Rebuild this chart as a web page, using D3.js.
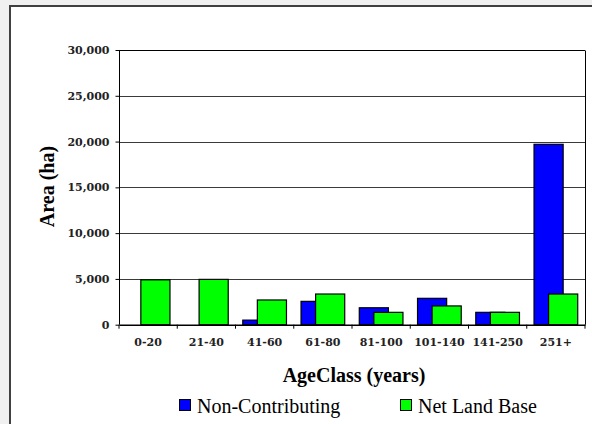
<!DOCTYPE html>
<html>
<head>
<meta charset="utf-8">
<script src="https://cdn.jsdelivr.net/npm/d3@7"></script>
<style>
  html, body { margin: 0; padding: 0; background: #f0f0f0; }
  svg { display: block; }
  .tick-label { font-family: "DejaVu Serif", "Bitstream Vera Serif", "Noto Serif", "Liberation Serif", serif; font-weight: bold; font-size: 11px; fill: #222; }
  .title { font-family: "Liberation Serif", "Times New Roman", Times, Tinos, "Noto Serif", "DejaVu Serif", serif; font-weight: bold; font-size: 20px; fill: #000; }
  .legend-label { font-family: "Liberation Serif", "Times New Roman", Times, Tinos, "Noto Serif", "DejaVu Serif", serif; font-size: 20px; fill: #000; }
</style>
</head>
<body>
<svg id="chart" width="592" height="424"></svg>
<script>
// Age classes and area (ha) per series
const categories = ["0-20", "21-40", "41-60", "61-80", "81-100", "101-140", "141-250", "251+"];
const nonContributing = [0, 0, 500, 2550, 1850, 2880, 1350, 19700];
const netLandBase = [4900, 4950, 2700, 3350, 1350, 2050, 1350, 3350];
const yTicks = [0, 5000, 10000, 15000, 20000, 25000, 30000];
const seriesNames = ["Non-Contributing", "Net Land Base"];
const seriesColors = ["#0000ff", "#00ff00"];

const svg = d3.select("#chart");

// Chart frame
svg.append("rect")
  .attr("x", 10).attr("y", 6)
  .attr("width", 620).attr("height", 460)
  .attr("fill", "#ffffff")
  .attr("stroke", "#404040").attr("stroke-width", 2);

const plot = { left: 119, right: 585, top: 50, bottom: 324.7 };

const x = d3.scaleBand()
  .domain(categories)
  .range([plot.left, plot.right])
  .paddingInner(0).paddingOuter(0);

const y = d3.scaleLinear()
  .domain([0, 30000])
  .range([plot.bottom, plot.top]);

// Horizontal gridlines
svg.append("g")
  .selectAll("line")
  .data(yTicks.filter(d => d > 0))
  .join("line")
  .attr("x1", plot.left).attr("x2", plot.right)
  .attr("y1", d => Math.round(y(d)) + 0.5).attr("y2", d => Math.round(y(d)) + 0.5)
  .attr("stroke", d => d === 30000 ? "#000" : "#3a3a3a")
  .attr("stroke-width", 1);

// Right border of plot area
svg.append("line")
  .attr("x1", plot.right + 0.5).attr("x2", plot.right + 0.5)
  .attr("y1", Math.round(y(30000)) + 0.5).attr("y2", plot.bottom)
  .attr("stroke", "#000").attr("stroke-width", 1);

// Bars: second series overlaps the first by half a bar width
const bw = x.bandwidth() / 2;
const groupOffset = (x.bandwidth() - 1.5 * bw) / 2;
const series = [nonContributing, netLandBase];

series.forEach((vals, si) => {
  svg.append("g")
    .selectAll("rect")
    .data(vals.map((v, i) => ({ cat: categories[i], v })))
    .join("rect")
    .filter(d => d.v > 0)
    .attr("x", d => x(d.cat) + groupOffset + si * bw * 0.5)
    .attr("y", d => y(d.v))
    .attr("width", bw)
    .attr("height", d => y(0) - y(d.v))
    .attr("fill", seriesColors[si])
    .attr("stroke", "#000")
    .attr("stroke-width", 1.2);
});

// Y axis
const yAxis = svg.append("g")
  .attr("transform", `translate(${plot.left + 0.5},0)`)
  .call(d3.axisLeft(y).tickValues(yTicks).tickSize(4).tickPadding(6)
    .tickFormat(d3.format(",")));
yAxis.attr("font-family", null).attr("font-size", null);
yAxis.select(".domain").attr("stroke", "#000").attr("d", `M0,${Math.round(y(30000)) + 0.5}V${plot.bottom}`);
yAxis.selectAll(".tick line").attr("stroke", "#000");
yAxis.selectAll("text").attr("class", "tick-label").attr("fill", null);

// X axis with ticks at category boundaries
const xAxis = svg.append("g")
  .attr("transform", `translate(0,${plot.bottom})`)
  .call(d3.axisBottom(x).tickSize(0).tickPadding(14));
xAxis.attr("font-family", null).attr("font-size", null);
xAxis.select(".domain").attr("stroke", "#000").attr("stroke-width", 1.5);
xAxis.selectAll("text").attr("class", "tick-label").attr("fill", null);
xAxis.selectAll(".boundary")
  .data(categories.concat([null]))
  .join("line")
  .attr("class", "boundary")
  .attr("x1", (d, i) => i < categories.length ? x(d) : plot.right)
  .attr("x2", (d, i) => i < categories.length ? x(d) : plot.right)
  .attr("y1", 0).attr("y2", 4)
  .attr("stroke", "#000");

// Axis titles
svg.append("text")
  .attr("class", "title")
  .attr("x", 354).attr("y", 381.5)
  .attr("text-anchor", "middle")
  .text("AgeClass (years)");

svg.append("text")
  .attr("class", "title")
  .attr("transform", "translate(54,186.5) rotate(-90)")
  .attr("text-anchor", "middle")
  .text("Area (ha)");

// Legend
const legendX = [179, 400];
const legend = svg.append("g");
seriesNames.forEach((name, i) => {
  legend.append("rect")
    .attr("x", legendX[i] + 0.5).attr("y", 399.5)
    .attr("width", 11).attr("height", 11)
    .attr("fill", seriesColors[i])
    .attr("stroke", "#000").attr("stroke-width", 1);
  legend.append("text")
    .attr("class", "legend-label")
    .attr("x", legendX[i] + 18).attr("y", 413)
    .text(name);
});
</script>
</body>
</html>
